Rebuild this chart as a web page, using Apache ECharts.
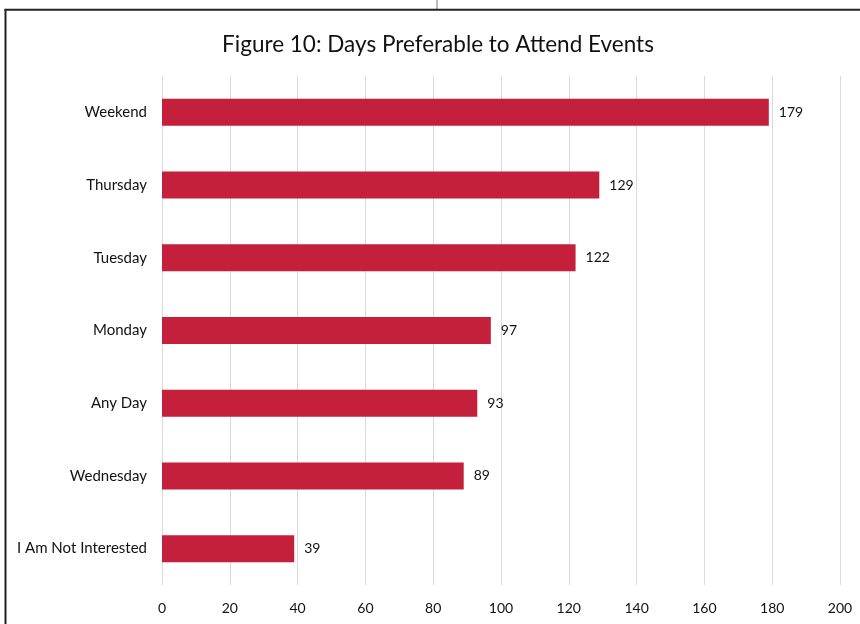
<!DOCTYPE html>
<html>
<head>
<meta charset="utf-8">
<script src="https://cdn.jsdelivr.net/npm/echarts@6/dist/echarts.min.js"></script>
<style>
  html, body { margin: 0; padding: 0; background: #fff; }
  #chart { width: 860px; height: 624px; }
</style>
</head>
<body>
<div id="chart"></div>
<script>
// Survey responses: preferred days to attend events (bottom to top)
const categories = ['I Am Not Interested', 'Wednesday', 'Any Day', 'Monday', 'Tuesday', 'Thursday', 'Weekend'];
const responses = [39, 89, 93, 97, 122, 129, 179];
const titleText = 'Figure 10: Days Preferable to Attend Events';

const FONT = 'Lato, "Open Sans", sans-serif';
const chart = echarts.init(document.getElementById('chart'), null, { renderer: 'canvas' });

chart.setOption({
  backgroundColor: '#ffffff',
  animation: false,
  title: {
    text: titleText,
    left: 433,
    top: 28,
    textAlign: 'center',
    textStyle: { fontFamily: FONT, fontSize: 22.5, fontWeight: 'normal', color: '#111111' }
  },
  grid: { left: 162, right: 20, top: 76, bottom: 39, containLabel: false },
  xAxis: {
    type: 'value',
    min: 0,
    max: 200,
    interval: 20,
    axisLine: { show: false },
    axisTick: { show: false },
    splitLine: { lineStyle: { color: '#d9d9d9', width: 1 } },
    axisLabel: { fontFamily: FONT, fontSize: 14, color: '#111111', margin: 16 }
  },
  yAxis: {
    type: 'category',
    data: categories,
    axisLine: { show: false },
    axisTick: { show: false },
    axisLabel: { fontFamily: FONT, fontSize: 15, color: '#111111', margin: 15 }
  },
  series: [{
    type: 'bar',
    data: responses,
    barWidth: 27,
    itemStyle: { color: '#c41f3b' },
    label: {
      show: true,
      position: 'right',
      distance: 10,
      fontFamily: FONT,
      fontSize: 14,
      color: '#111111'
    }
  }],
  graphic: [
    { type: 'line', shape: { x1: 437, y1: 0, x2: 437, y2: 9 }, style: { stroke: '#a6a6a6', lineWidth: 1.5 } },
    { type: 'line', shape: { x1: 4.5, y1: 9.8, x2: 860, y2: 9.8 }, style: { stroke: '#222222', lineWidth: 2 } },
    { type: 'line', shape: { x1: 5.5, y1: 9, x2: 5.5, y2: 624 }, style: { stroke: '#222222', lineWidth: 2 } }
  ]
});
</script>
</body>
</html>
